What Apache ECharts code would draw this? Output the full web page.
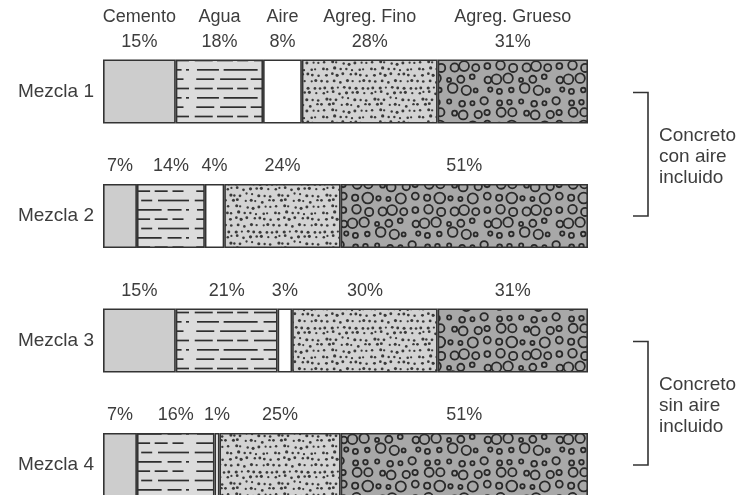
<!DOCTYPE html>
<html>
<head>
<meta charset="utf-8">
<script src="https://cdn.jsdelivr.net/npm/echarts@6/dist/echarts.min.js"></script>
<style>
  html, body { margin: 0; padding: 0; background: #ffffff; }
  #chart { width: 749px; height: 495px; }
</style>
</head>
<body>
<div id="chart"></div>
<script>
// Mixture proportions (% of volume) for each concrete mix
const categories = ['Mezcla 1', 'Mezcla 2', 'Mezcla 3', 'Mezcla 4'];
const componentes = ['Cemento', 'Agua', 'Aire', 'Agreg. Fino', 'Agreg. Grueso'];
const cemento = [15, 7, 15, 7];
const agua = [18, 14, 21, 16];
const aire = [8, 4, 3, 1];
const agregFino = [28, 24, 30, 25];
const agregGrueso = [31, 51, 31, 51];
const grupos = [
  { texto: 'Concreto\ncon aire\nincluido', desde: 'Mezcla 1', hasta: 'Mezcla 2' },
  { texto: 'Concreto\nsin aire\nincluido', desde: 'Mezcla 3', hasta: 'Mezcla 4' }
];

const FONT = '"Liberation Sans", Arial, Helvetica, sans-serif';
const INK = '#333333';
const TEXT = '#3d3d3d';

// deterministic jitter for textures
function h(i, j) {
  const s = Math.sin(i * 12.9898 + j * 78.233) * 43758.5453;
  return s - Math.floor(s);
}

function tile(w, hgt, bg, draw) {
  const c = document.createElement('canvas');
  c.width = w; c.height = hgt;
  const ctx = c.getContext('2d');
  ctx.fillStyle = bg;
  ctx.fillRect(0, 0, w, hgt);
  draw(ctx, w, hgt);
  return { image: c, repeat: 'repeat' };
}

// draws a circle and its wrapped copies so the tile repeats seamlessly
function wrappedArc(ctx, w, hgt, x, y, r, fill) {
  for (let dx = -1; dx <= 1; dx++) {
    for (let dy = -1; dy <= 1; dy++) {
      ctx.beginPath();
      ctx.arc(x + dx * w, y + dy * hgt, r, 0, Math.PI * 2);
      if (fill) ctx.fill(); else ctx.stroke();
    }
  }
}

// water: broken horizontal dashes
const patAgua = tile(96, 28, '#dcdcdc', function (ctx) {
  ctx.strokeStyle = '#2e2e2e';
  ctx.lineWidth = 1.7;
  for (let r = 0; r < 3; r++) {
    const y = 4.5 + r * 9.33;
    let x = 2 + h(r, 1) * 4;
    let k = 0;
    while (x < 92) {
      let len = 10 + Math.floor(h(r, k + 3) * 30);
      if (x + len > 93) len = 93 - x;
      if (len > 3) {
        ctx.beginPath();
        ctx.moveTo(x, y);
        ctx.lineTo(x + len, y);
        ctx.stroke();
      }
      x += len + 4 + h(k, r + 7) * 2;
      k++;
    }
  }
});

// fine aggregate: small dots
const patFino = tile(48, 48, '#d3d3d3', function (ctx, w, hgt) {
  ctx.fillStyle = '#3a3a3a';
  const cell = 6;
  for (let i = 0; i < 8; i++) {
    for (let j = 0; j < 8; j++) {
      const x = j * cell + 3 + (i % 2 ? 1.5 : -1.5) + (h(i, j) - 0.5) * 3;
      const y = i * cell + 3 + (h(j, i + 11) - 0.5) * 3;
      wrappedArc(ctx, w, hgt, x, y, 1.1 + h(i + 2, j + 4) * 0.5, true);
    }
  }
});

// coarse aggregate: outlined pebbles
const patGrueso = tile(72, 72, '#a8a8a8', function (ctx, w, hgt) {
  ctx.strokeStyle = '#2a2a2a';
  ctx.lineWidth = 1.8;
  const cell = 12;
  for (let i = 0; i < 6; i++) {
    for (let j = 0; j < 6; j++) {
      const r = 2.0 + Math.pow(h(i + 3, j + 5), 1.5) * 3.8;
      const x = j * cell + 6 + (i % 2 ? 3 : 0) + (h(i, j + 2) - 0.5) * 4;
      const y = i * cell + 6 + (h(j + 9, i) - 0.5) * 4;
      wrappedArc(ctx, w, hgt, x, y, r, false);
    }
  }
});

const rellenos = ['#cdcdcd', patAgua, '#ffffff', patFino, patGrueso];
const valores = [cemento, agua, aire, agregFino, agregGrueso];

const chart = echarts.init(document.getElementById('chart'), null, { renderer: 'canvas' });

const series = componentes.map(function (nombre, s) {
  return {
    name: nombre,
    type: 'bar',
    stack: 'total',
    barWidth: 64,
    data: valores[s],
    itemStyle: { color: rellenos[s], borderColor: INK, borderWidth: 1.6 },
    label: {
      show: true,
      position: 'top',
      distance: 5,
      color: TEXT,
      fontFamily: FONT,
      fontSize: 18,
      lineHeight: 25,
      formatter: function (p) {
        return p.dataIndex === 0 ? nombre + '\n' + p.value + '%' : p.value + '%';
      }
    },
    emphasis: { disabled: true },
    animation: false
  };
});

chart.setOption({
  backgroundColor: '#ffffff',
  animation: false,
  grid: { left: 103, right: 161, top: 29.25, height: 498, outerBoundsMode: 'none', containLabel: false },
  xAxis: { type: 'value', min: 0, max: 100, show: false },
  yAxis: {
    type: 'category',
    data: categories,
    inverse: true,
    axisLine: { show: false },
    axisTick: { show: false },
    splitLine: { show: false },
    axisLabel: { color: TEXT, fontFamily: FONT, fontSize: 19, margin: 9 }
  },
  series: series
});

// right-hand brackets grouping the mixes
const graficos = [];
grupos.forEach(function (g) {
  const a = chart.convertToPixel({ gridIndex: 0 }, [100, g.desde]);
  const b = chart.convertToPixel({ gridIndex: 0 }, [100, g.hasta]);
  const x0 = a[0] + 45, x1 = a[0] + 60;
  graficos.push({
    type: 'polyline',
    shape: { points: [[x0, a[1] + 1], [x1, a[1] + 1], [x1, b[1]], [x0, b[1]]] },
    style: { stroke: INK, lineWidth: 1.6, fill: null },
    silent: true
  });
  graficos.push({
    type: 'text',
    x: a[0] + 71,
    y: (a[1] + b[1]) / 2 + 3,
    style: {
      text: g.texto,
      fill: TEXT,
      font: '19px ' + FONT,
      lineHeight: 21,
      align: 'left',
      verticalAlign: 'middle'
    },
    silent: true
  });
});
chart.setOption({ graphic: graficos });
</script>
</body>
</html>
